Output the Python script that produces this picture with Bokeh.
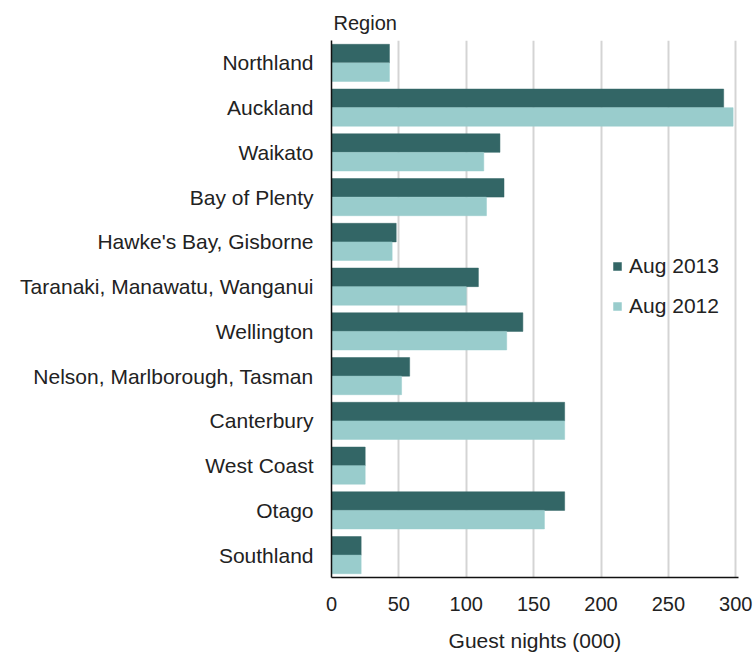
from bokeh.plotting import figure
from bokeh.models import FactorRange, Range1d, ColumnDataSource, FixedTicker
from bokeh.transform import dodge
from bokeh.embed import file_html
from bokeh.resources import INLINE

regions = ["Northland", "Auckland", "Waikato", "Bay of Plenty", "Hawke's Bay, Gisborne",
           "Taranaki, Manawatu, Wanganui", "Wellington", "Nelson, Marlborough, Tasman",
           "Canterbury", "West Coast", "Otago", "Southland"]
aug_2013 = [43, 291, 125, 128, 48, 109, 142, 58, 173, 25, 173, 22]
aug_2012 = [43, 298, 113, 115, 45, 100, 130, 52, 173, 25, 158, 22]
x_ticks = [0, 50, 100, 150, 200, 250, 300]

FONT = "Liberation Sans"
DARK = "#336666"
LIGHT = "#99cccc"

src = ColumnDataSource(dict(region=regions, y13=aug_2013, y12=aug_2012))

p = figure(y_range=FactorRange(factors=regions[::-1]), x_range=Range1d(0, 302),
           width=754, height=654, output_backend="svg", toolbar_location=None,
           min_border_left=331, min_border_right=16, min_border_bottom=77, min_border_top=40)
p.outline_line_color = None

p.hbar(y=dodge("region", 0.2075, range=p.y_range), right="y13", left=0, height=0.415,
       source=src, fill_color=DARK, line_color=DARK, line_width=0.5, legend_label="Aug 2013")
p.hbar(y=dodge("region", -0.2075, range=p.y_range), right="y12", left=0, height=0.415,
       source=src, fill_color=LIGHT, line_color=LIGHT, line_width=0.5, legend_label="Aug 2012")

p.title.text = "Region"
p.title.text_font = FONT
p.title.text_font_size = "20px"
p.title.text_font_style = "normal"
p.title.text_color = "#222222"
p.title.align = "left"
p.title.offset = 2
p.title.standoff = 14

p.xaxis.ticker = FixedTicker(ticks=x_ticks)
p.xgrid.ticker = FixedTicker(ticks=x_ticks)
p.xgrid.grid_line_color = "#d4d4d4"
p.xgrid.grid_line_width = 2
p.ygrid.grid_line_color = None

for ax in (p.xaxis, p.yaxis):
    ax.major_tick_line_color = None
    ax.minor_tick_line_color = None
    ax.axis_line_color = "#111111"
    ax.axis_line_width = 1.5
    ax.major_label_text_font = FONT
    ax.major_label_text_color = "#222222"

p.xaxis.major_label_text_font_size = "20px"
p.yaxis.major_label_text_font_size = "21px"
p.yaxis.major_label_standoff = 12
p.xaxis.major_label_standoff = 13
p.xaxis.axis_label = "Guest nights (000)"
p.xaxis.axis_label_text_font = FONT
p.xaxis.axis_label_text_font_size = "21px"
p.xaxis.axis_label_text_font_style = "normal"
p.xaxis.axis_label_text_color = "#222222"
p.xaxis.axis_label_standoff = 15

lg = p.legend[0]
lg.location = (281, 259)
lg.padding = 0
lg.margin = 0
lg.spacing = 16
lg.glyph_width = 10
lg.glyph_height = 10
lg.label_height = 20
lg.label_standoff = 7
lg.label_text_font = FONT
lg.label_text_font_size = "21px"
lg.label_text_color = "#222222"
lg.border_line_color = None
lg.background_fill_alpha = 0

open("out.html", "w").write(file_html(p, INLINE))
